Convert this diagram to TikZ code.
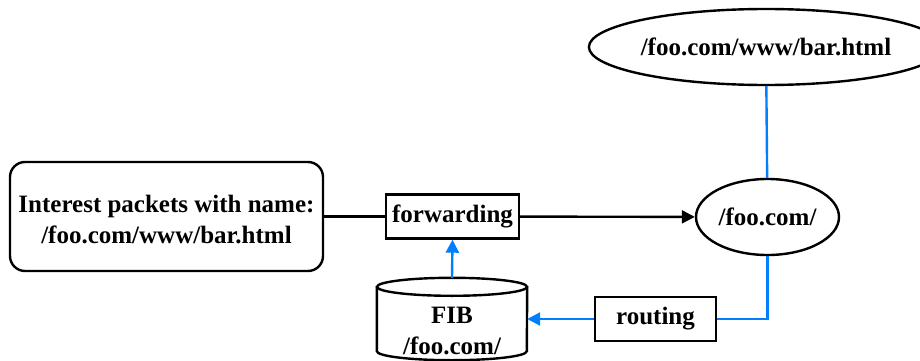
\documentclass[tikz,border=0pt]{standalone}
\usepackage{fontspec}
\setmainfont{Liberation Serif}
\usetikzlibrary{shapes.geometric,arrows.meta,calc}
\definecolor{linkblue}{RGB}{0,128,255}
\begin{document}
\begin{tikzpicture}[x=1pt,y=-1pt,
  every node/.style={font=\fontsize{25}{31}\selectfont\bfseries, align=center, inner sep=0pt},
  box/.style={draw, line width=2.4pt},
  plainbox/.style={box, rectangle},
  roundbox/.style={box, rectangle, rounded corners=15pt},
  oval/.style={box, ellipse},
  blackline/.style={line width=2.4pt},
  blueline/.style={line width=2.4pt, draw=linkblue},
  tip/.style={-{Triangle[length=13pt,width=13pt]}}
]
\useasboundingbox (0,0) rectangle (920,361);

% nodes
\node[roundbox, minimum width=313pt, minimum height=109pt] (pkt) at (166.5,216.5) {};
\node (pkttext) at (166.5,220) {Interest packets with name:\\/foo.com/www/bar.html};
\node[plainbox, minimum width=133pt, minimum height=44pt] (fwd) at (452.5,216.5) {forwarding};
\node[oval, minimum width=143pt, minimum height=76pt] (foo) at (767.5,217) {/foo.com/};
\node[oval, minimum width=318pt, minimum height=76pt] (top) at (766,47) {/foo.com/www/bar.html};
\node[plainbox, minimum width=121pt, minimum height=44pt] (routing) at (655.5,319) {routing};

% FIB store drawn as a cylinder around an invisible frame node
\node[minimum width=150pt, minimum height=82pt] (fib) at (452,319) {};
\draw[blackline]
  ($(fib.north west)+(0,9)$) -- ($(fib.south west)+(0,-9)$)
  arc[start angle=180, end angle=360, x radius=75pt, y radius=9pt]
  -- ($(fib.north east)+(0,9)$);
\draw[blackline] ($(fib.north)+(0,9)$) ellipse[x radius=75pt, y radius=9pt];
\node (fibtext) at (452,331) {FIB\\/foo.com/};

% connectors
\draw[blackline] (pkt) -- (fwd);
\draw[blackline, tip] (fwd) -- (foo);
\draw[blueline] (top) -- (foo);
\draw[blueline] (foo.south) |- (routing.east);
\draw[blueline, tip, fill=linkblue] (routing.west) -- (fib.east);
\draw[blueline, tip, fill=linkblue] (fib.north) -- (fwd.south);
\end{tikzpicture}
\end{document}
